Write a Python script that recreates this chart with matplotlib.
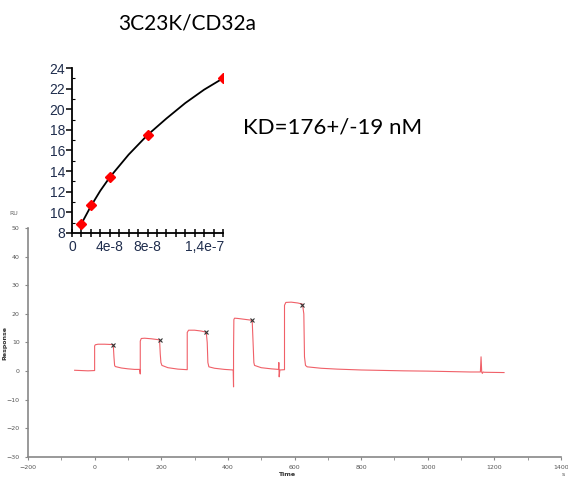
import matplotlib
matplotlib.use("Agg")
import matplotlib.pyplot as plt
from matplotlib.ticker import MultipleLocator, FixedLocator

# sensorgram (time in s, response in RU)
time = [-60, -20, 0, 0, 2, 10, 30, 50, 56, 58, 60, 62, 80, 100, 120, 135, 137, 137,
        140, 150, 170, 190, 195, 197, 199, 202, 220, 250, 278, 278, 282, 300, 320, 335,
        338, 340, 343, 360, 390, 416, 417, 417, 418, 420, 430, 450, 470, 473, 476, 478,
        480, 500, 530, 552, 553, 554, 556, 570, 570, 574, 590, 610, 624, 628, 630, 633,
        638, 680, 728, 800, 928, 1000, 1127, 1158, 1160, 1162, 1164, 1166, 1170, 1229]
response = [0.3, 0.1, 0.2, 8.8, 9.2, 9.4, 9.4, 9.3, 9.2, 5.0, 2.0, 1.6, 1.1, 0.8, 0.6, 0.6, -1.0, 10.5,
            11.4, 11.5, 11.3, 11.0, 10.8, 6.0, 3.0, 2.0, 1.2, 0.7, 0.5, 13.5, 14.3, 14.3, 14.0, 13.6,
            10.0, 3.0, 1.5, 1.0, 0.6, 0.4, -5.5, 7.0, 18.0, 18.5, 18.4, 18.1, 17.8, 17.7, 9.0, 3.0,
            2.0, 1.2, 0.8, 0.6, 3.0, -2.0, 0.4, 0.5, 23.0, 24.0, 24.1, 23.8, 23.4, 20.0, 5.0, 2.0,
            1.5, 1.0, 0.7, 0.4, 0.1, 0.0, -0.3, -0.3, 5.0, -0.4, -0.8, -0.3, -0.4, -0.5]

# end of association points marked with x
mark_t = [56, 195, 335, 473, 624]
mark_r = [9.2, 10.8, 13.6, 17.7, 23.2]

# steady state response vs concentration (M)
conc = [1e-8, 2e-8, 4e-8, 8e-8, 1.6e-7]
req = [8.9, 10.7, 13.4, 17.5, 23.0]
fit_x = [1e-8, 2e-8, 3e-8, 4e-8, 6e-8, 8e-8, 1e-7, 1.2e-7, 1.4e-7, 1.6e-7]
fit_y = [8.9, 10.6, 12.1, 13.4, 15.6, 17.5, 19.1, 20.6, 21.9, 23.0]

fig = plt.figure(figsize=(5.68, 4.8), dpi=100)

ax = fig.add_axes([28 / 568, 1 - 457 / 480, 533 / 568, 229 / 480])
ax.plot(time, response, color="#f06068", lw=0.8)
ax.plot(mark_t, mark_r, "x", color="#333333", ms=2.5, mew=0.8)
ax.set_xlim(-200, 1400)
ax.set_ylim(-30, 50)
ax.xaxis.set_major_locator(MultipleLocator(200))
ax.xaxis.set_minor_locator(MultipleLocator(100))
ax.yaxis.set_major_locator(MultipleLocator(10))
for s in ["top", "right"]:
    ax.spines[s].set_visible(False)
for s in ["left", "bottom"]:
    ax.spines[s].set_color("#888888")
    ax.spines[s].set_linewidth(1.2)
ax.tick_params(labelsize=4.5, colors="#888888", labelcolor="#555555", length=2.5, width=0.8)
ax.tick_params(which="minor", length=2, colors="#888888")
ax.set_xlabel("Time", fontsize=4.5, fontweight="bold", color="#333333")
ax.xaxis.set_label_coords(0.485, -0.065)
ax.set_ylabel("Response", fontsize=4.5, fontweight="bold", color="#333333")
ax.yaxis.set_label_coords(-0.038, 0.5)
ax.text(-0.027, 1.055, "RU", transform=ax.transAxes, fontsize=4.5, color="#666666", ha="center")
fig.text(563 / 568, 1 - 474 / 480, "s", fontsize=4.5, color="#555555", ha="center", va="center")

inset = fig.add_axes([72 / 568, 1 - 233 / 480, 151 / 568, 165 / 480])
inset.set_facecolor("none")
inset.plot(fit_x, fit_y, color="black", lw=1.3, zorder=2)
inset.plot(conc, req, "D", color="red", ms=5, zorder=3)
inset.set_xlim(0, 1.6e-7)
inset.set_ylim(8, 24)
inset.xaxis.set_major_locator(FixedLocator([i * 1e-8 for i in range(17)]))
xlabels = {0: "0", 4: "4e-8", 8: "8e-8", 14: "1,4e-7"}
inset.set_xticklabels([xlabels.get(i, "") for i in range(17)])
inset.yaxis.set_major_locator(MultipleLocator(2))
inset.yaxis.set_minor_locator(MultipleLocator(1))
for s in ["top", "right"]:
    inset.spines[s].set_visible(False)
for s in ["left", "bottom"]:
    inset.spines[s].set_linewidth(1.3)
inset.tick_params(axis="x", direction="inout", length=6, width=1.1, labelsize=10,
                  labelcolor="#1f2d4d", pad=2)
inset.tick_params(axis="y", direction="out", length=4, width=1.1, labelsize=10,
                  labelcolor="#1f2d4d", pad=1)
inset.tick_params(axis="y", which="minor", direction="in", length=2, width=0.8)
for lab in inset.get_xticklabels() + inset.get_yticklabels():
    lab.set_family("Liberation Sans")

fig.text(187 / 568, 1 - 23 / 480, "3C23K/CD32a", fontsize=15, family="Lato",
         ha="center", va="center")
fig.text(243 / 568, 1 - 127 / 480, "KD=176+/-19 nM", fontsize=16, family="Lato",
         ha="left", va="center")

fig.savefig("out.png", dpi=100)
